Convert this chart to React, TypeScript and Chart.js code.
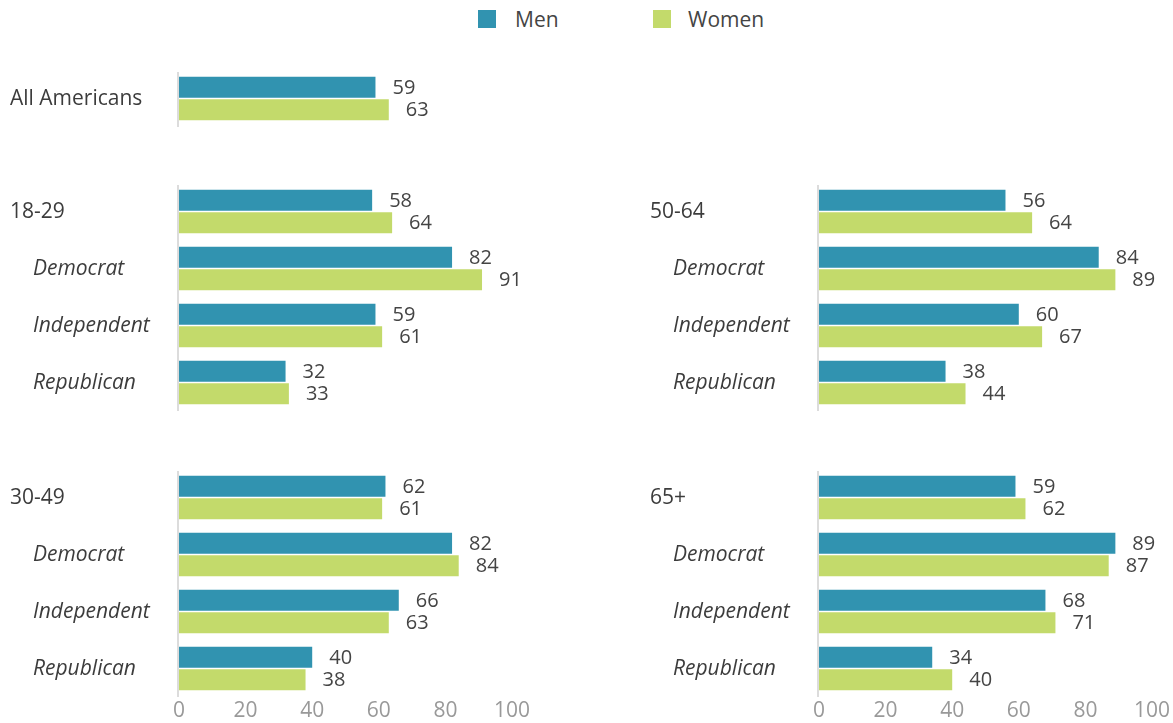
import React, { useEffect, useRef } from "react";
import { Chart, registerables } from "chart.js";

Chart.register(...registerables);

const MEN_COLOR = "#3193b0";
const WOMEN_COLOR = "#c3da6b";
const FONT = '"Open Sans", sans-serif';

const seriesNames = ["Men", "Women"];
const xTicks = [0, 20, 40, 60, 80, 100];

const allCats = ["All Americans"];
const allMen = [59];
const allWomen = [63];

const cats1829 = ["18-29", "Democrat", "Independent", "Republican"];
const men1829 = [58, 82, 59, 32];
const women1829 = [64, 91, 61, 33];

const cats3049 = ["30-49", "Democrat", "Independent", "Republican"];
const men3049 = [62, 82, 66, 40];
const women3049 = [61, 84, 63, 38];

const cats5064 = ["50-64", "Democrat", "Independent", "Republican"];
const men5064 = [56, 84, 60, 38];
const women5064 = [64, 89, 67, 44];

const cats65 = ["65+", "Democrat", "Independent", "Republican"];
const men65 = [59, 89, 68, 34];
const women65 = [62, 87, 71, 40];

const labelPlugin = {
  id: "panelLabels",
  beforeDatasetsDraw(chart: any) {
    const ctx = chart.ctx;
    const area = chart.chartArea;
    ctx.save();
    ctx.strokeStyle = "#dcdcdc";
    ctx.lineWidth = 2;
    ctx.beginPath();
    ctx.moveTo(area.left - 1, area.top + 2);
    ctx.lineTo(area.left - 1, area.bottom);
    ctx.stroke();
    ctx.restore();
  },
  afterDatasetsDraw(chart: any) {
    const ctx = chart.ctx;
    const yScale = chart.scales.y;
    ctx.save();
    ctx.textBaseline = "middle";
    ctx.textAlign = "left";
    ctx.fillStyle = "#3c3c3c";
    chart.data.labels.forEach((lab: string, i: number) => {
      const py = yScale.getPixelForValue(i) + 1;
      const isSub = i > 0;
      ctx.font = `${isSub ? "italic " : ""}21px ${FONT}`;
      ctx.fillText(lab, isSub ? 33 : 10, py);
    });
    ctx.font = `20px ${FONT}`;
    ctx.fillStyle = "#444444";
    chart.data.datasets.forEach((ds: any, di: number) => {
      const meta = chart.getDatasetMeta(di);
      meta.data.forEach((bar: any, i: number) => {
        ctx.fillText(String(ds.data[i]), bar.x + 17, bar.y + 1);
      });
    });
    ctx.restore();
  },
};

type PanelProps = {
  left: number;
  top: number;
  height: number;
  cats: string[];
  men: number[];
  women: number[];
  showTicks: boolean;
};

function Panel({ left, top, height, cats, men, women, showTicks }: PanelProps) {
  const ref = useRef<HTMLCanvasElement>(null);
  useEffect(() => {
    if (!ref.current) return;
    const chart = new Chart(ref.current, {
      type: "bar",
      data: {
        labels: cats,
        datasets: [
          { label: seriesNames[0], data: men, backgroundColor: MEN_COLOR },
          { label: seriesNames[1], data: women, backgroundColor: WOMEN_COLOR },
        ],
      },
      options: {
        indexAxis: "y",
        responsive: false,
        animation: false,
        layout: { padding: { left: 179, right: 48, top: 9, bottom: showTicks ? 0 : 9 } },
        datasets: { bar: { categoryPercentage: 45 / 57, barPercentage: 0.933 } },
        scales: {
          x: {
            min: 0,
            max: 100,
            display: showTicks,
            grid: { display: false, drawTicks: false },
            border: { display: false },
            afterBuildTicks: (scale: any) => {
              scale.ticks = xTicks.map((v) => ({ value: v }));
            },
            ticks: {
              color: "#999999",
              font: { family: FONT, size: 21 },
              padding: 1,
              maxRotation: 0,
            },
            afterFit: (scale: any) => {
              if (showTicks) scale.height = 26;
            },
          },
          y: { display: false },
        },
        plugins: { legend: { display: false }, tooltip: { enabled: false } },
      } as any,
      plugins: [labelPlugin],
    });
    return () => chart.destroy();
  }, []);
  return (
    <canvas
      ref={ref}
      width={560}
      height={height}
      style={{ position: "absolute", left, top, width: 560, height }}
    />
  );
}

export default function App() {
  return (
    <div
      style={{
        position: "absolute",
        left: 0,
        top: 0,
        width: 1173,
        height: 723,
        background: "#ffffff",
        overflow: "hidden",
        fontFamily: FONT,
      }}
    >
      <div style={{ position: "absolute", left: 478, top: 10, width: 18, height: 18, background: MEN_COLOR }} />
      <div style={{ position: "absolute", left: 515, top: 5, fontSize: 21, color: "#444", lineHeight: "28px" }}>
        {seriesNames[0]}
      </div>
      <div style={{ position: "absolute", left: 653, top: 10, width: 18, height: 18, background: WOMEN_COLOR }} />
      <div style={{ position: "absolute", left: 688, top: 5, fontSize: 21, color: "#444", lineHeight: "28px" }}>
        {seriesNames[1]}
      </div>
      <Panel left={0} top={61} height={75} cats={allCats} men={allMen} women={allWomen} showTicks={false} />
      <Panel left={0} top={174} height={246} cats={cats1829} men={men1829} women={women1829} showTicks={false} />
      <Panel left={0} top={460} height={263} cats={cats3049} men={men3049} women={women3049} showTicks={true} />
      <Panel left={640} top={174} height={246} cats={cats5064} men={men5064} women={women5064} showTicks={false} />
      <Panel left={640} top={460} height={263} cats={cats65} men={men65} women={women65} showTicks={true} />
    </div>
  );
}
